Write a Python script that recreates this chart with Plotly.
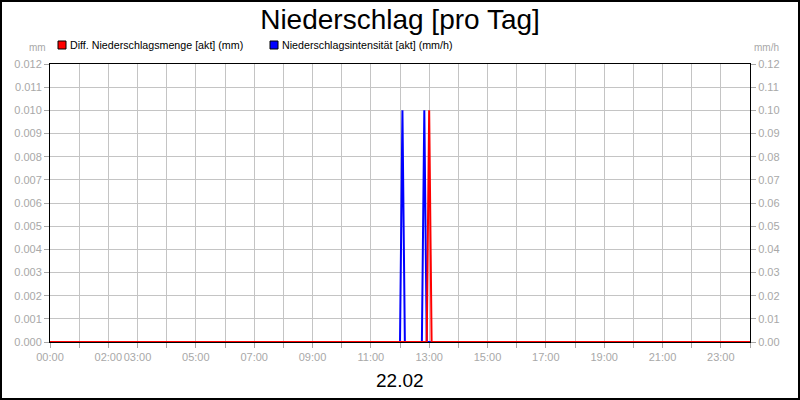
import plotly.graph_objects as go

day = "2024-02-22"
# Niederschlagsintensität [akt] (mm/h)
intens_times = ["00:00", "12:00", "12:05", "12:10", "12:45", "12:50", "12:55", "23:59:59"]
intens_values = [0.0, 0.0, 0.10, 0.0, 0.0, 0.10, 0.0, 0.0]
# Diff. Niederschlagsmenge [akt] (mm)
menge_times = ["00:00", "12:55", "13:00", "13:05", "23:59:59"]
menge_values = [0.0, 0.0, 0.010, 0.0, 0.0]

hour_ticks = ["%02d:00" % h for h in range(24)]
labelled_hours = ["00:00", "02:00", "03:00", "05:00", "07:00", "09:00", "11:00",
                  "13:00", "15:00", "17:00", "19:00", "21:00", "23:00"]
left_ticks = [i / 1000 for i in range(13)]
right_ticks = [i / 100 for i in range(13)]

def ts(t):
    return f"{day} {t}"

GRAY = "#a8a8a8"
GRID = "#c4c4c4"
FONT = "Liberation Sans"

fig = go.Figure()
fig.add_trace(go.Scatter(
    x=[ts(t) for t in intens_times], y=intens_values, mode="lines",
    line=dict(color="#0000ff", width=2), yaxis="y",
    name="Niederschlagsintensität [akt] (mm/h)"))
fig.add_trace(go.Scatter(
    x=[ts(t) for t in menge_times], y=menge_values, mode="lines",
    line=dict(color="#ff0000", width=2), yaxis="y2",
    name="Diff. Niederschlagsmenge [akt] (mm)"))

tickvals = [ts(t) for t in hour_ticks] + ["2024-02-23 00:00"]
ticktext = [t if t in labelled_hours else "" for t in hour_ticks] + [""]

W, H = 800, 400
L, R, T, B = 50, 50, 64, 58
pw, ph = W - L - R, H - T - B

fig.update_layout(
    width=W, height=H,
    margin=dict(l=L, r=R, t=T, b=B, autoexpand=False),
    paper_bgcolor="white", plot_bgcolor="white",
    showlegend=False,
    font=dict(family=FONT, color=GRAY, size=11),
    title=dict(text="Niederschlag [pro Tag]", x=0.5, xanchor="center",
               y=1 - 19 / H, yanchor="middle",
               font=dict(family=FONT, size=28, color="black")),
    xaxis=dict(type="date", range=[ts("00:00"), "2024-02-23 00:00"],
               tickmode="array", tickvals=tickvals, ticktext=ticktext,
               tickangle=0, automargin=False,
               showgrid=True, gridcolor=GRID, gridwidth=1,
               showline=True, linecolor="black", linewidth=1, mirror=True,
               ticks="outside", ticklen=5, tickcolor=GRAY,
               tickfont=dict(family=FONT, size=11, color=GRAY),
               zeroline=False, fixedrange=True),
    yaxis=dict(range=[0, 0.12], side="right", tickmode="array",
               tickvals=right_ticks, ticktext=["%.2f" % v for v in right_ticks],
               automargin=False,
               showgrid=True, gridcolor=GRID, gridwidth=1,
               showline=True, linecolor="black", linewidth=1, mirror=True,
               ticks="outside", ticklen=5, tickcolor=GRAY,
               tickfont=dict(family=FONT, size=11, color=GRAY),
               zeroline=False),
    yaxis2=dict(range=[0, 0.012], side="left", overlaying="y", tickmode="array",
                tickvals=left_ticks, ticktext=["%.3f" % v for v in left_ticks],
                automargin=False,
                showgrid=False, showline=True, linecolor="black", linewidth=1,
                ticks="outside", ticklen=5, tickcolor=GRAY,
                tickfont=dict(family=FONT, size=11, color=GRAY),
                zeroline=False),
)

def px(x):
    return (x - L) / pw

def py(y):
    return (H - B - y) / ph

shapes = [
    # outer frame
    dict(type="rect", xref="paper", yref="paper",
         x0=px(1), x1=px(W - 1), y0=py(H - 1), y1=py(1),
         line=dict(color="black", width=2), fillcolor="rgba(0,0,0,0)", layer="above"),
    # legend squares
    dict(type="rect", xref="paper", yref="paper",
         x0=px(58), x1=px(66), y0=py(49), y1=py(41),
         line=dict(color="black", width=1), fillcolor="#ff0000"),
    dict(type="rect", xref="paper", yref="paper",
         x0=px(270), x1=px(278), y0=py(49), y1=py(41),
         line=dict(color="black", width=1), fillcolor="#0000ff"),
]
annotations = [
    dict(text="Diff. Niederschlagsmenge [akt] (mm)", xref="paper", yref="paper",
         x=px(68), y=py(45), xanchor="left", yanchor="middle", showarrow=False,
         font=dict(family=FONT, size=10.7, color="black")),
    dict(text="Niederschlagsintensität [akt] (mm/h)", xref="paper", yref="paper",
         x=px(280), y=py(45), xanchor="left", yanchor="middle", showarrow=False,
         font=dict(family=FONT, size=10.7, color="black")),
    dict(text="mm", xref="paper", yref="paper", x=px(48), y=py(48),
         xanchor="right", yanchor="middle", showarrow=False,
         font=dict(family=FONT, size=10, color=GRAY)),
    dict(text="mm/h", xref="paper", yref="paper", x=px(752), y=py(48),
         xanchor="left", yanchor="middle", showarrow=False,
         font=dict(family=FONT, size=10, color=GRAY)),
    dict(text="22.02", xref="paper", yref="paper", x=0.5, y=py(380),
         xanchor="center", yanchor="middle", showarrow=False,
         font=dict(family=FONT, size=19, color="black")),
]
fig.update_layout(shapes=shapes, annotations=annotations)

fig.write_html(
    "out.html",
    config={"displayModeBar": False, "staticPlot": True},
    post_script="document.body.style.margin='0';document.body.style.overflow='hidden';",
)
